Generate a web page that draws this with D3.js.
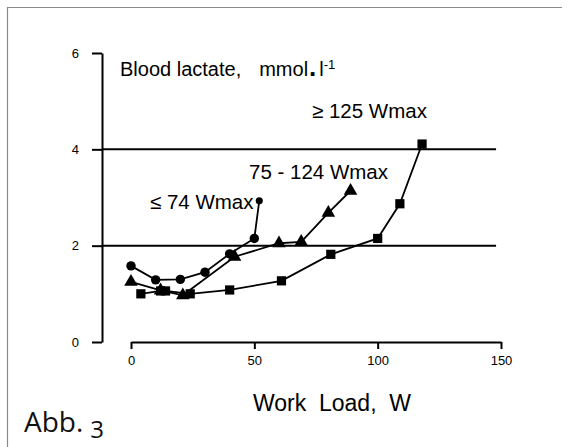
<!DOCTYPE html>
<html>
<head>
<meta charset="utf-8">
<script src="https://cdn.jsdelivr.net/npm/d3@7"></script>
<style>
  html, body { margin: 0; padding: 0; background: #fff; }
  svg { display: block; }
  text { font-family: "Liberation Sans", Arial, sans-serif; fill: #000; }
</style>
</head>
<body>
<svg id="chart" width="568" height="447"></svg>
<script>
// Work load (W) and blood lactate (mmol/l) for three Wmax groups
const lowLoad = [0, 10, 20, 30, 40, 50, 52];
const lowLactate = [1.58, 1.29, 1.30, 1.45, 1.83, 2.15, 2.93];

const midLoad = [0, 12, 21, 42, 60, 69, 80, 89];
const midLactate = [1.25, 1.07, 0.97, 1.77, 2.05, 2.08, 2.68, 3.14];

const highLoad = [4, 12, 14, 24, 40, 61, 81, 100, 109, 118];
const highLactate = [1.0, 1.06, 1.06, 1.0, 1.08, 1.27, 1.82, 2.15, 2.87, 4.11];

const xTicks = [0, 50, 100, 150];
const yTicks = [0, 2, 4, 6];
const thresholds = [2, 4];

const groupNames = ["\u2264 74 Wmax", "75 - 124 Wmax", "\u2265 125 Wmax"];

const svg = d3.select("#chart");

// thin grey frame (left and top)
svg.append("path")
  .attr("d", "M7.5,447 V7.5 H562")
  .attr("fill", "none")
  .attr("stroke", "#8a8a8a")
  .attr("stroke-width", 1.2);

const x = d3.scaleLinear().domain([0, 150]).range([131, 501]);
const y = d3.scaleLinear().domain([0, 6]).range([342, 53]);
const yAxisX = 102;

// y axis
const yAxis = svg.append("g")
  .attr("transform", `translate(${yAxisX},0)`)
  .call(d3.axisLeft(y).tickValues(yTicks).tickFormat(d3.format("d"))
    .tickSize(10).tickSizeOuter(0).tickPadding(13));
yAxis.select(".domain").attr("stroke-width", 2);
yAxis.selectAll(".tick line").attr("stroke-width", 2);
yAxis.selectAll(".tick text").style("font-size", "13px");

// x axis
const xAxis = svg.append("g")
  .attr("transform", `translate(0,${y(0)})`)
  .call(d3.axisBottom(x).tickValues(xTicks).tickFormat(d3.format("d"))
    .tickSize(7).tickSizeOuter(0).tickPadding(7));
xAxis.select(".domain").attr("stroke-width", 2);
xAxis.selectAll(".tick line").attr("stroke-width", 2);
xAxis.selectAll(".tick text").style("font-size", "13px");

// 2 and 4 mmol/l threshold lines
svg.selectAll("line.threshold")
  .data(thresholds)
  .join("line")
  .attr("class", "threshold")
  .attr("x1", yAxisX)
  .attr("x2", x(148))
  .attr("y1", d => y(d))
  .attr("y2", d => y(d))
  .attr("stroke", "#000")
  .attr("stroke-width", 2);

const line = d3.line().x(d => x(d[0])).y(d => y(d[1]));

const series = [
  { load: lowLoad, lactate: lowLactate, symbol: d3.symbolCircle, size: 70 },
  { load: midLoad, lactate: midLactate, symbol: d3.symbolTriangle, size: 80 },
  { load: highLoad, lactate: highLactate, symbol: d3.symbolSquare, size: 85 }
];

series.forEach(s => {
  const pts = s.load.map((v, i) => [v, s.lactate[i]]);
  svg.append("path")
    .datum(pts)
    .attr("d", line)
    .attr("fill", "none")
    .attr("stroke", "#000")
    .attr("stroke-width", 1.8);
  svg.append("g")
    .selectAll("path")
    .data(pts)
    .join("path")
    .attr("transform", d => `translate(${x(d[0])},${y(d[1])})`)
    .attr("d", (d, i) => d3.symbol(s.symbol, (s.symbol === d3.symbolCircle && i === pts.length - 1) ? 40 : s.size)())
    .attr("fill", "#000");
});

// y axis title
const yTitle = svg.append("text")
  .attr("x", 120)
  .attr("y", 76)
  .style("font-size", "20px");
yTitle.append("tspan").text("Blood lactate,");
yTitle.append("tspan").attr("dx", 18).text("mmol");
yTitle.append("tspan").attr("dx", 1).text(".").style("font-weight", "bold").style("font-size", "26px");
yTitle.append("tspan").attr("dx", 3).text("l");
yTitle.append("tspan").text("-1").attr("dy", -7).style("font-size", "13px");

// group labels
const groupPos = [[150, 209], [249, 179], [312, 118]];
svg.selectAll("text.group")
  .data(groupNames)
  .join("text")
  .attr("class", "group")
  .attr("x", (d, i) => groupPos[i][0])
  .attr("y", (d, i) => groupPos[i][1])
  .style("font-size", "20.5px")
  .text(d => d);

// x axis title
svg.append("text")
  .attr("x", 332)
  .attr("y", 411)
  .attr("text-anchor", "middle")
  .style("font-size", "23px")
  .text("Work\u00a0\u00a0Load,\u00a0\u00a0W");

// figure number
const fig = svg.append("text")
  .attr("x", 24)
  .attr("y", 432)
  .style("font-family", "'Open Sans', 'Noto Sans', sans-serif")
  .style("font-size", "28px")
  .style("fill", "#111");
fig.append("tspan").text("Abb.");
fig.append("tspan").text("3").attr("dx", 7).attr("dy", 6).style("font-size", "24px");
</script>
</body>
</html>
